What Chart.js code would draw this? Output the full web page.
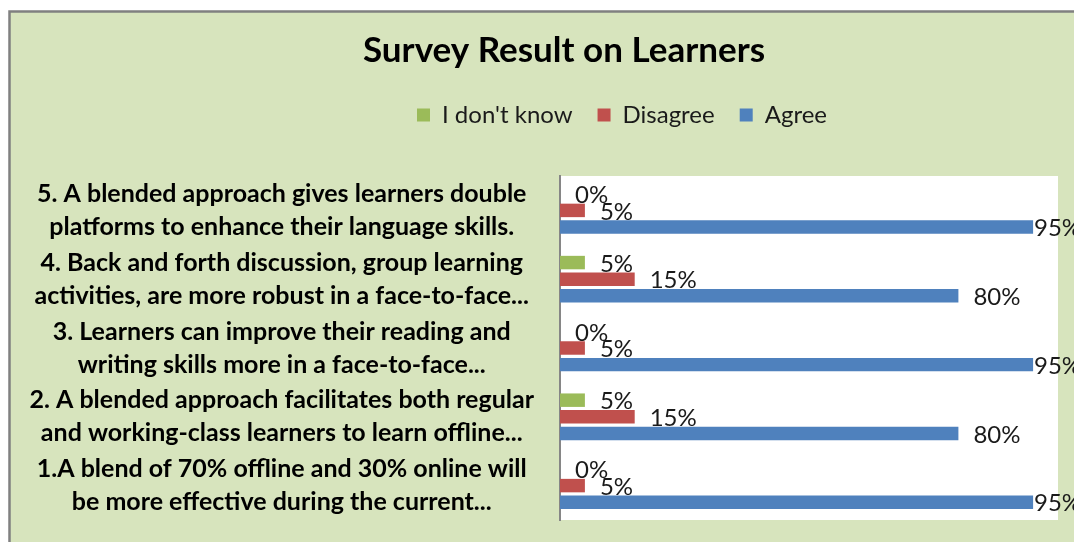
<!DOCTYPE html>
<html>
<head>
<meta charset="utf-8">
<script src="https://cdn.jsdelivr.net/npm/chart.js@4.4.1/dist/chart.umd.min.js"></script>
<style>
  html, body { margin: 0; padding: 0; background: #ffffff; }
  #wrap { width: 1074px; height: 542px; }
</style>
</head>
<body>
<div id="wrap"><canvas id="c" width="1074" height="542"></canvas></div>
<script>
const categories = [
  ["5. A blended approach gives learners double", "platforms to enhance their language skills."],
  ["4. Back and forth discussion, group learning", "activities, are more robust in a face-to-face..."],
  ["3. Learners can improve their reading and", "writing skills more in a face-to-face..."],
  ["2. A blended approach facilitates both regular", "and working-class learners to learn offline..."],
  ["1.A blend of 70% offline and 30% online will", "be more effective during the current..."]
];
const seriesNames = ["I don't know", "Disagree", "Agree"];
const dontKnow = [0, 5, 0, 5, 0];
const disagree = [5, 15, 5, 15, 5];
const agree = [95, 80, 95, 80, 95];
const titleText = "Survey Result on Learners";

const backgroundPlugin = {
  id: 'bg',
  beforeDraw(chart) {
    const ctx = chart.ctx, ca = chart.chartArea;
    ctx.save();
    ctx.fillStyle = '#ffffff';
    ctx.fillRect(0, 0, chart.width, chart.height);
    ctx.fillStyle = '#D7E4BD';
    ctx.fillRect(9, 11, chart.width, chart.height);
    ctx.strokeStyle = '#808080';
    ctx.lineWidth = 2.5;
    ctx.beginPath();
    ctx.moveTo(9.5, chart.height + 5);
    ctx.lineTo(9.5, 11.5);
    ctx.lineTo(chart.width + 5, 11.5);
    ctx.stroke();
    ctx.fillStyle = '#ffffff';
    ctx.fillRect(ca.left, ca.top, ca.right - ca.left, ca.bottom - ca.top);
    ctx.restore();
  }
};

const placementPlugin = {
  id: 'placement',
  afterLayout(chart) {
    const tb = chart.titleBlock;
    if (tb) {
      const h = tb.bottom - tb.top;
      tb.top = 30; tb.bottom = 30 + h;
      const dx = 564 - (tb.left + tb.right) / 2;
      tb.left += dx; tb.right += dx;
    }
    const lg = chart.legend;
    if (lg) {
      const h = lg.bottom - lg.top;
      lg.top = 78; lg.bottom = 78 + h;
      const dx = 622 - (lg.left + lg.right) / 2;
      lg.left += dx; lg.right += dx;
    }
  }
};

const valueLabelPlugin = {
  id: 'valueLabels',
  afterDatasetsDraw(chart) {
    const ctx = chart.ctx, ca = chart.chartArea;
    ctx.save();
    ctx.font = '24px Lato';
    ctx.fillStyle = '#1a1a1a';
    ctx.textAlign = 'left';
    ctx.textBaseline = 'middle';
    chart.data.datasets.forEach((ds, di) => {
      const meta = chart.getDatasetMeta(di);
      meta.data.forEach((el, i) => {
        const x = Math.min(el.x + 15, ca.right - 24);
        ctx.fillText(ds.data[i] + '%', x, el.y + 1.5);
      });
    });
    ctx.restore();
  }
};

new Chart(document.getElementById('c'), {
  type: 'bar',
  data: {
    labels: categories,
    datasets: [
      { label: seriesNames[0], data: dontKnow, backgroundColor: '#9BBB59' },
      { label: seriesNames[1], data: disagree, backgroundColor: '#C0504D' },
      { label: seriesNames[2], data: agree, backgroundColor: '#4F81BD' }
    ]
  },
  options: {
    indexAxis: 'y',
    responsive: false,
    animation: false,
    devicePixelRatio: 1,
    categoryPercentage: 0.725,
    barPercentage: 0.81,
    layout: { padding: { top: 71, left: 12, right: 16, bottom: 22 } },
    scales: {
      x: {
        display: false,
        min: 0, max: 100
      },
      y: {
        grid: { display: false, drawTicks: false },
        border: { display: true, color: '#868686', width: 2 },
        ticks: {
          autoSkip: false,
          crossAlign: 'center',
          padding: 26,
          color: '#000000',
          font: { family: 'Lato', weight: 'bold', size: 25, lineHeight: 1.32 }
        },
        afterFit(scale) {
          scale.width = 548;
          scale.paddingTop = 0;
          scale.paddingBottom = 0;
        }
      }
    },
    plugins: {
      title: {
        display: true,
        text: titleText,
        color: '#000000',
        font: { family: 'Lato', weight: 'bold', size: 35 },
        padding: { top: 0, bottom: 4 }
      },
      legend: {
        display: true,
        labels: {
          boxWidth: 13, boxHeight: 13,
          padding: 25,
          color: '#1a1a1a',
          font: { family: 'Lato', size: 24 }
        }
      },
      tooltip: { enabled: false }
    }
  },
  plugins: [backgroundPlugin, placementPlugin, valueLabelPlugin]
});
</script>
</body>
</html>
